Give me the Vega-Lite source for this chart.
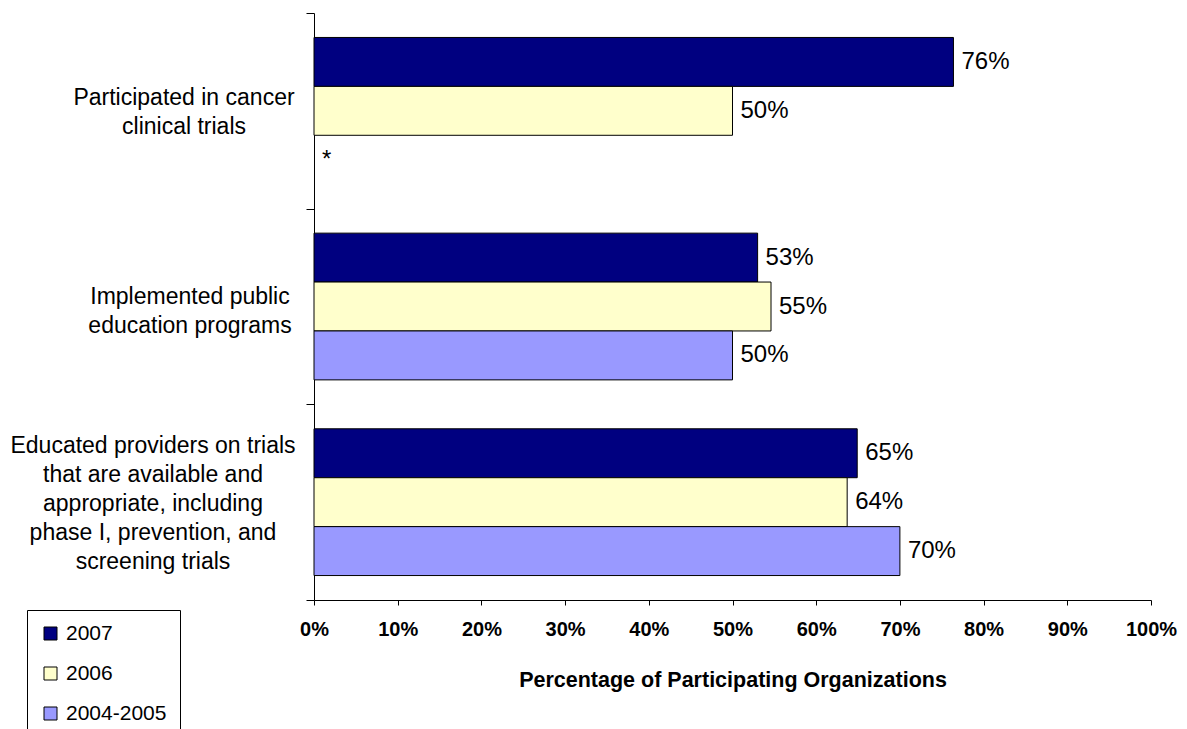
{
  "$schema": "https://vega.github.io/schema/vega-lite/v6.json",
  "width": 837,
  "height": 587,
  "autosize": {"type": "none"},
  "padding": {"left": 314, "top": 13, "right": 36, "bottom": 129},
  "background": "white",
  "config": {
    "view": {"stroke": null},
    "font": "Liberation Sans, Arial, sans-serif",
    "axis": {"domainColor": "black", "tickColor": "black", "labelColor": "black", "titleColor": "black", "grid": false}
  },
  "data": {
    "values": [
      {"activity": "Participated in cancer clinical trials", "period": "2007", "value": 0.764, "label": "76%"},
      {"activity": "Participated in cancer clinical trials", "period": "2006", "value": 0.50, "label": "50%"},
      {"activity": "Participated in cancer clinical trials", "period": "2004-2005", "value": 0, "label": "*"},
      {"activity": "Implemented public education programs", "period": "2007", "value": 0.53, "label": "53%"},
      {"activity": "Implemented public education programs", "period": "2006", "value": 0.546, "label": "55%"},
      {"activity": "Implemented public education programs", "period": "2004-2005", "value": 0.50, "label": "50%"},
      {"activity": "Educated providers on trials that are available and appropriate, including phase I, prevention, and screening trials", "period": "2007", "value": 0.649, "label": "65%"},
      {"activity": "Educated providers on trials that are available and appropriate, including phase I, prevention, and screening trials", "period": "2006", "value": 0.637, "label": "64%"},
      {"activity": "Educated providers on trials that are available and appropriate, including phase I, prevention, and screening trials", "period": "2004-2005", "value": 0.70, "label": "70%"}
    ]
  },
  "encoding": {
    "y": {
      "field": "activity",
      "type": "nominal",
      "sort": [
        "Participated in cancer clinical trials",
        "Implemented public education programs",
        "Educated providers on trials that are available and appropriate, including phase I, prevention, and screening trials"
      ],
      "scale": {"paddingInner": 0, "paddingOuter": 0},
      "axis": {
        "title": null,
        "tickBand": "extent",
        "tickSize": 8,
        "labelAlign": "center",
        "labelBaseline": "middle",
        "labelFontSize": 23,
        "labelLineHeight": 29,
        "labelLimit": 0,
        "labelPadding": {
          "condition": [
            {"test": "datum.value == 'Participated in cancer clinical trials'", "value": 122.5},
            {"test": "datum.value == 'Implemented public education programs'", "value": 116.5}
          ],
          "value": 153.5
        },
        "labelOffset": {
          "condition": [
            {"test": "datum.value == 'Participated in cancer clinical trials'", "value": -13},
            {"test": "datum.value == 'Implemented public education programs'", "value": -10}
          ],
          "value": -57
        },
        "labelExpr": "datum.value == 'Participated in cancer clinical trials' ? ['Participated in cancer', 'clinical trials'] : datum.value == 'Implemented public education programs' ? ['Implemented public', 'education programs'] : datum.value == 'Educated providers on trials that are available and appropriate, including phase I, prevention, and screening trials' ? ['Educated providers on trials', 'that are available and', 'appropriate, including', 'phase I, prevention, and', 'screening trials'] : ''"
      }
    },
    "yOffset": {
      "field": "period",
      "type": "nominal",
      "sort": ["2007", "2006", "2004-2005"],
      "scale": {"paddingInner": 0, "paddingOuter": 0.5}
    },
    "x": {
      "field": "value",
      "type": "quantitative",
      "scale": {"domain": [0, 1], "nice": false},
      "axis": {
        "format": ".0%",
        "values": [0, 0.1, 0.2, 0.3, 0.4, 0.5, 0.6, 0.7, 0.8, 0.9, 1],
        "tickSize": 5,
        "labelFontSize": 20,
        "labelFontWeight": "bold",
        "labelPadding": 14,
        "labelFlush": false,
        "labelOverlap": false,
        "titleFontSize": 21.5,
        "titleFontWeight": "bold",
        "titlePadding": 30
      },
      "title": "Percentage of Participating Organizations"
    }
  },
  "layer": [
    {
      "transform": [{"filter": "datum.label != '*'"}],
      "mark": {"type": "bar", "stroke": "black", "strokeWidth": 1},
      "encoding": {
        "color": {
          "field": "period",
          "type": "nominal",
          "scale": {"domain": ["2007", "2006", "2004-2005"], "range": ["#000080", "#FFFFCC", "#9999FF"]},
          "legend": {
            "orient": "none",
            "legendX": -287,
            "legendY": 597,
            "direction": "vertical",
            "title": null,
            "symbolType": "square",
            "symbolSize": 169,
            "symbolStrokeColor": "black",
            "symbolStrokeWidth": 1,
            "symbolOpacity": 1,
            "labelFontSize": 21,
            "labelColor": "black",
            "padding": 13,
            "symbolOffset": 0,
            "labelOffset": 5,
            "rowPadding": 18,
            "strokeColor": "black",
            "fillColor": "white",
            "cornerRadius": 0
          }
        }
      }
    },
    {
      "mark": {"type": "text", "align": "left", "baseline": "middle", "dx": 8, "fontSize": 24, "color": "black"},
      "encoding": {"text": {"field": "label"}}
    }
  ]
}
